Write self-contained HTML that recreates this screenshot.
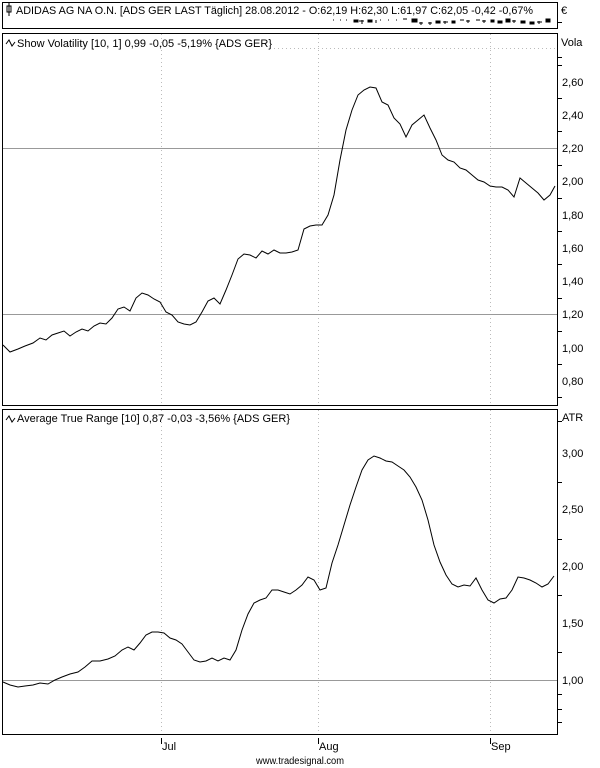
<!DOCTYPE html>
<html><head><meta charset="utf-8"><style>
body{margin:0;background:#fff;}
svg{display:block;font-family:"Liberation Sans",Arial,sans-serif;}
text{font-size:11px;fill:#000;}
</style></head><body>
<svg width="600" height="768" viewBox="0 0 600 768" xmlns="http://www.w3.org/2000/svg">
<rect width="600" height="768" fill="#fff"/>
<rect x="2.5" y="2.5" width="555" height="26" fill="none" stroke="#000"/>
<rect x="7" y="6" width="4" height="6" fill="none" stroke="#000"/>
<line x1="9" y1="3" x2="9" y2="16" stroke="#000"/>
<text x="16" y="14" textLength="517" lengthAdjust="spacingAndGlyphs">ADIDAS AG NA O.N. [ADS GER LAST Täglich] 28.08.2012 - O:62,19 H:62,30 L:61,97 C:62,05 -0,42 -0,67%</text>
<text x="561" y="14">€</text>
<line x1="558" y1="22.5" x2="562" y2="22.5" stroke="#000"/>
<g stroke="#000" fill="#000">
<path d="M333 20h1M340 20h1M346 20h1M354 20h4v2h-4zM362 20v4M359 21h5M368 20h4v2h-4zM376 20v3M380 20h1M388 20h1M396 20h1M403 19h4M412 19h5v3h-5zM421 22v3M419 23h4M430 22v3M428 23h4M436 21h4v2h-4zM445 21v3M443 22h5M452 21h3v2h-3zM460 20h4M468 20v3M466 21h4M476 20h4M484 20v3M482 21h4M491 20h3v2h-3zM498 21h4v2h-4zM506 19h4v3h-4zM514 20v3M512 21h4M521 21h4v2h-4zM530 22h4v2h-4zM539 21v3M537 22h5M546 19h4v3h-4z" stroke-width="1"/>
</g>
<rect x="2.5" y="33.5" width="555" height="372" fill="none" stroke="#000"/>
<g stroke="#bbb" stroke-dasharray="1,3">
<line x1="270" y1="48.5" x2="557" y2="48.5"/>
<line x1="161.5" y1="34" x2="161.5" y2="405"/>
<line x1="318.5" y1="34" x2="318.5" y2="405"/>
<line x1="490.5" y1="34" x2="490.5" y2="405"/>
<line x1="161.5" y1="410" x2="161.5" y2="734"/>
<line x1="318.5" y1="410" x2="318.5" y2="734"/>
<line x1="490.5" y1="410" x2="490.5" y2="734"/>
</g>
<line x1="3" y1="148.5" x2="557" y2="148.5" stroke="#999"/>
<line x1="3" y1="314.5" x2="557" y2="314.5" stroke="#999"/>
<path d="M6 44l3-4 3 6 3-4" fill="none" stroke="#000"/>
<text x="17" y="47" textLength="255" lengthAdjust="spacingAndGlyphs">Show Volatility [10, 1] 0,99 -0,05 -5,19% {ADS GER}</text>
<text x="561" y="46">Vola</text>
<text x="562" y="86">2,60</text><text x="562" y="119">2,40</text><text x="562" y="152">2,20</text><text x="562" y="185">2,00</text>
<text x="562" y="219">1,80</text><text x="562" y="252">1,60</text><text x="562" y="285">1,40</text><text x="562" y="318">1,20</text>
<text x="562" y="352">1,00</text><text x="562" y="385">0,80</text>
<path stroke="#000" d="M558 65.5h4M558 98.5h4M558 131.5h4M558 165.5h4M558 198.5h4M558 231.5h4M558 264.5h4M558 298.5h4M558 331.5h4M558 364.5h4M558 397.5h4M558 57.5h4"/>
<polyline fill="none" stroke="#000" points="3,345 10,352 18,349 25,346 33,343 40,338 46,340 52,335 58,333 64,331 70,336 76,332 82,329 88,331 94,326 100,323 106,324 112,318 118,309 124,307 130,311 136,298 142,293 148,295 154,299 160,302 166,312 172,315 178,322 184,324 190,325 196,322 202,312 208,301 214,298 220,304 226,290 232,275 238,259 244,254 250,255 256,258 262,251 268,254 274,250 280,253 286,253 292,252 298,250 304,229 310,226 316,225 322,225 328,215 334,195 340,160 346,130 352,110 358,95 364,90 370,87 376,88 382,102 388,105 394,118 400,124 406,137 412,125 418,120 424,115 430,128 436,140 442,155 448,160 454,162 460,168 466,170 472,175 478,180 484,182 490,186 496,187 502,187 508,190 514,197 520,178 526,183 532,188 538,193 544,200 550,195 555,186"/>
<rect x="2.5" y="409.5" width="555" height="325" fill="none" stroke="#000"/>
<line x1="3" y1="680.5" x2="557" y2="680.5" stroke="#999"/>
<path d="M6 420l3-4 3 6 3-4" fill="none" stroke="#000"/>
<text x="17" y="422" textLength="273" lengthAdjust="spacingAndGlyphs">Average True Range [10] 0,87 -0,03 -3,56% {ADS GER}</text>
<text x="562" y="421">ATR</text>
<text x="562" y="457">3,00</text><text x="562" y="513">2,50</text><text x="562" y="570">2,00</text><text x="562" y="627">1,50</text><text x="562" y="684">1,00</text>
<path stroke="#000" d="M558 421.5h4M558 482.5h4M558 539.5h4M558 595.5h4M558 652.5h4M558 709.5h4M558 722.5h4M558 694.5h4"/>
<polyline fill="none" stroke="#000" points="3,682 10,685 18,687 25,686 33,685 40,683 48,684 55,680 62,677 70,674 78,672 85,667 92,661 100,661 108,659 115,656 122,650 128,647 134,650 140,643 146,635 152,632 158,632 164,633 170,638 176,640 182,644 188,652 194,660 200,662 206,661 212,658 218,661 224,658 230,660 236,650 242,630 248,614 254,603 260,600 266,598 272,590 278,590 284,592 290,594 296,590 302,585 308,577 314,580 320,590 326,588 332,563 338,545 344,525 350,505 356,487 362,470 368,460 374,456 380,458 386,461 392,462 398,466 404,470 410,477 416,487 422,500 428,520 434,545 440,562 446,575 452,584 458,587 464,585 470,586 476,578 482,590 488,600 494,603 500,599 506,598 512,590 518,577 524,578 530,580 536,583 542,587 548,584 554,576"/>
<path stroke="#000" d="M161.5 738v6M318.5 738v6M490.5 738v6"/>
<text x="162" y="750">Jul</text><text x="319" y="750">Aug</text><text x="491" y="750">Sep</text>
<text x="256" y="764" style="font-size:10px" textLength="88" lengthAdjust="spacingAndGlyphs">www.tradesignal.com</text>
</svg>
</body></html>
